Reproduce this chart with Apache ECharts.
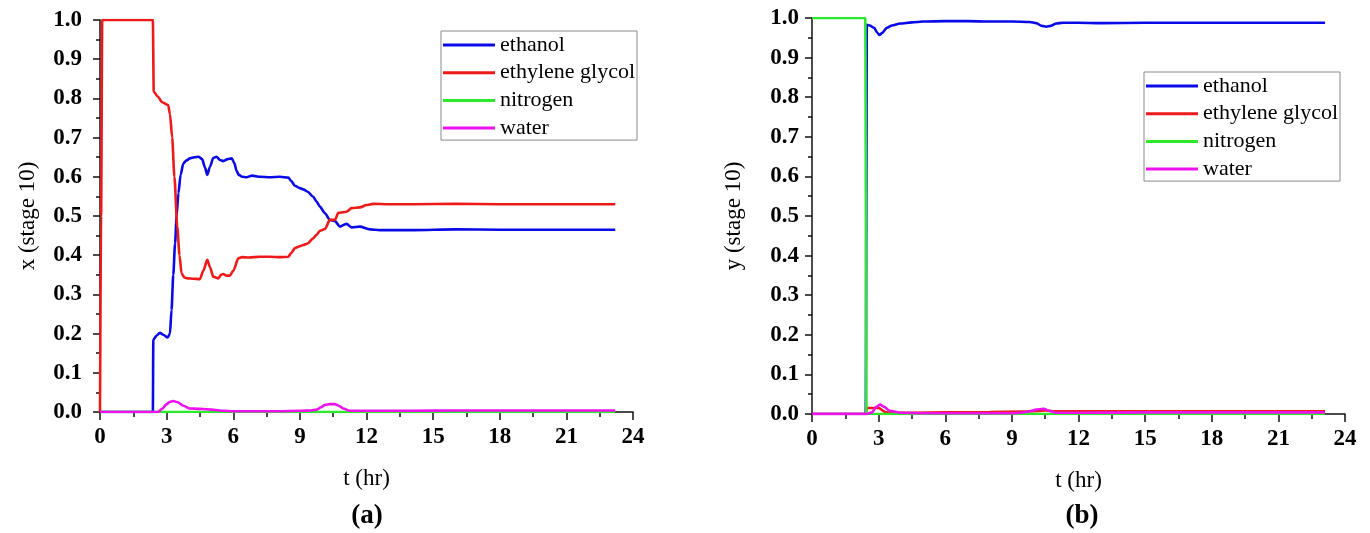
<!DOCTYPE html>
<html>
<head>
<meta charset="utf-8">
<script src="https://cdn.jsdelivr.net/npm/echarts@6/dist/echarts.min.js"></script>
<style>
  html, body { margin: 0; padding: 0; background: #fff; }
  #chart { width: 1370px; height: 533px; }
</style>
</head>
<body>
<div id="chart"></div>
<script>
// Component names (legend entries)
const components = ['ethanol', 'ethylene glycol', 'nitrogen', 'water'];
const lineColors = ['#0a0ae6', '#ee1a1a', '#2ee82e', '#ee11ee'];

// x-axis ticks (hours)
const hourTicks = [0, 3, 6, 9, 12, 15, 18, 21, 24];

// (a) liquid mole fraction on stage 10
const tLiqEthanol = [0, 2.38, 2.4, 2.55, 2.7, 2.85, 3.05, 3.15, 3.22, 3.3, 3.38, 3.45, 3.53, 3.63, 3.75, 3.9, 4.05, 4.25, 4.45, 4.6, 4.72, 4.83, 4.95, 5.1, 5.25, 5.4, 5.55, 5.75, 5.93, 6.05, 6.15, 6.25, 6.4, 6.6, 6.85, 7.2, 7.65, 8.1, 8.48, 8.6, 8.78, 9.0, 9.15, 9.35, 9.6, 9.75, 9.9, 10.13, 10.35, 10.58, 10.8, 11.1, 11.33, 11.7, 12.15, 12.6, 14.1, 16, 18, 20, 22, 23.2];
const liqEthanol  = [0, 0, 0.184, 0.195, 0.202, 0.197, 0.19, 0.2, 0.26, 0.35, 0.43, 0.5, 0.558, 0.605, 0.634, 0.642, 0.647, 0.65, 0.651, 0.645, 0.625, 0.605, 0.625, 0.648, 0.651, 0.643, 0.64, 0.645, 0.647, 0.635, 0.615, 0.605, 0.6, 0.599, 0.603, 0.6, 0.599, 0.6, 0.598, 0.59, 0.577, 0.571, 0.568, 0.562, 0.549, 0.537, 0.524, 0.507, 0.49, 0.487, 0.473, 0.48, 0.471, 0.473, 0.466, 0.464, 0.464, 0.466, 0.465, 0.465, 0.465, 0.465];

const tLiqGlycol = [0, 0.05, 0.1, 2.38, 2.42, 2.6, 2.8, 3.07, 3.15, 3.25, 3.35, 3.48, 3.58, 3.67, 3.8, 3.95, 4.2, 4.5, 4.65, 4.83, 4.95, 5.1, 5.33, 5.45, 5.55, 5.7, 5.85, 6.0, 6.23, 6.4, 6.7, 7.2, 7.65, 8.1, 8.48, 8.6, 8.78, 9.0, 9.15, 9.35, 9.6, 9.75, 9.9, 10.13, 10.35, 10.58, 10.73, 11.1, 11.33, 11.7, 12, 12.3, 13, 14.1, 16, 18, 20, 22, 23.2];
const liqGlycol  = [0, 0.5, 1.0, 1.0, 0.817, 0.805, 0.79, 0.783, 0.76, 0.7, 0.6, 0.473, 0.4, 0.354, 0.343, 0.341, 0.34, 0.339, 0.36, 0.388, 0.37, 0.345, 0.341, 0.35, 0.352, 0.348, 0.348, 0.36, 0.392, 0.395, 0.394, 0.396, 0.396, 0.395, 0.396, 0.405, 0.418, 0.423, 0.426, 0.43, 0.443, 0.452, 0.462, 0.467, 0.49, 0.49, 0.508, 0.511, 0.52, 0.522, 0.528, 0.531, 0.53, 0.53, 0.531, 0.53, 0.53, 0.53, 0.53];

const tLiqNitrogen = [0, 23.2];
const liqNitrogen  = [0, 0];

const tLiqWater = [0, 2.6, 2.8, 3.0, 3.15, 3.3, 3.5, 3.75, 4.05, 4.5, 4.8, 5.2, 5.55, 6, 7, 8, 9, 9.5, 9.76, 9.95, 10.13, 10.35, 10.58, 10.75, 10.95, 11.25, 12, 14, 16, 18, 20, 22, 23.2];
const liqWater  = [0, 0, 0.008, 0.02, 0.026, 0.028, 0.025, 0.016, 0.009, 0.008, 0.007, 0.005, 0.003, 0.002, 0.002, 0.002, 0.003, 0.004, 0.006, 0.012, 0.018, 0.02, 0.02, 0.016, 0.009, 0.003, 0.003, 0.003, 0.004, 0.004, 0.004, 0.004, 0.004];

// (b) vapour mole fraction on stage 10
const tVapEthanol = [0, 2.42, 2.47, 2.6, 2.8, 2.95, 3.04, 3.15, 3.37, 3.6, 3.97, 4.5, 5.0, 6, 7, 8, 9, 9.8, 10.1, 10.35, 10.55, 10.75, 11, 11.3, 12, 13, 15, 18, 21, 23.1];
const vapEthanol  = [0, 0, 0.983, 0.981, 0.975, 0.962, 0.957, 0.962, 0.975, 0.981, 0.986, 0.989, 0.991, 0.992, 0.992, 0.991, 0.991, 0.99, 0.987, 0.98, 0.978, 0.98, 0.986, 0.988, 0.988, 0.987, 0.988, 0.988, 0.988, 0.988];

const tVapGlycol = [0, 2.42, 2.47, 3.0, 3.3, 3.6, 4.5, 6, 8, 9.5, 10.2, 10.5, 10.8, 12, 15, 18, 21, 23.1];
const vapGlycol  = [0, 0, 0.015, 0.015, 0.005, 0.003, 0.003, 0.004, 0.005, 0.006, 0.008, 0.009, 0.007, 0.007, 0.007, 0.007, 0.007, 0.007];

const tVapNitrogen = [0, 2.4, 2.45, 23.1];
const vapNitrogen  = [1.0, 1.0, 0, 0];

const tVapWater = [0, 2.45, 2.7, 2.9, 3.07, 3.25, 3.5, 4.0, 5, 7, 9, 9.4, 9.8, 10.1, 10.43, 10.7, 11.0, 12, 15, 18, 21, 23.1];
const vapWater  = [0, 0, 0.004, 0.018, 0.024, 0.018, 0.008, 0.003, 0.002, 0.002, 0.002, 0.003, 0.007, 0.011, 0.013, 0.008, 0.003, 0.003, 0.004, 0.004, 0.004, 0.004];

const pair = (ts, vs) => ts.map((t, i) => [t, vs[i]]);

const liquid = [pair(tLiqEthanol, liqEthanol), pair(tLiqGlycol, liqGlycol), pair(tLiqNitrogen, liqNitrogen), pair(tLiqWater, liqWater)];
const vapour = [pair(tVapEthanol, vapEthanol), pair(tVapGlycol, vapGlycol), pair(tVapNitrogen, vapNitrogen), pair(tVapWater, vapWater)];

const SERIF = '"Liberation Serif", "Times New Roman", serif';

function xAxisFor(gridIndex) {
  return {
    type: 'value', gridIndex, min: hourTicks[0], max: hourTicks[hourTicks.length - 1], interval: 3,
    name: 't (hr)', nameLocation: 'middle', nameGap: 55,
    nameTextStyle: { fontFamily: SERIF, fontSize: 23, color: '#000' },
    axisLine: { show: true, onZero: false, lineStyle: { color: '#111', width: 1.5 } },
    axisTick: { show: true, inside: false, length: 8, lineStyle: { color: '#111', width: 1.5 } },
    minorTick: { show: true, splitNumber: 2, length: 5, lineStyle: { color: '#111', width: 1.5 } },
    axisLabel: { fontFamily: SERIF, fontSize: 23, fontWeight: 'bold', color: '#000', margin: 14 },
    splitLine: { show: false }
  };
}
function yAxisFor(gridIndex, name, gap, labelMargin) {
  return {
    type: 'value', gridIndex, min: 0, max: 1, interval: 0.1,
    name, nameLocation: 'middle', nameGap: gap,
    nameTextStyle: { fontFamily: SERIF, fontSize: 23, color: '#000' },
    axisLine: { show: true, onZero: false, lineStyle: { color: '#111', width: 1.5 } },
    axisTick: { show: true, inside: false, length: 7, lineStyle: { color: '#111', width: 1.5 } },
    minorTick: { show: true, splitNumber: 2, length: 4, lineStyle: { color: '#111', width: 1.5 } },
    axisLabel: { fontFamily: SERIF, fontSize: 23, fontWeight: 'bold', color: '#000', margin: labelMargin,
                 formatter: v => v.toFixed(1) },
    splitLine: { show: false }
  };
}
function legendAt(left, top) {
  return {
    data: components, orient: 'vertical', left, top,
    icon: 'rect', itemWidth: 52, itemHeight: 3, itemGap: 5.7, itemTextGap: 5,
    padding: [3, 2, 1, 2], borderColor: '#8a8a8a', borderWidth: 1,
    textStyle: { fontFamily: SERIF, fontSize: 22, lineHeight: 22, color: '#000' }
  };
}

const series = [];
[liquid, vapour].forEach((set, g) => {
  set.forEach((data, i) => {
    series.push({
      type: 'line', name: components[i], xAxisIndex: g, yAxisIndex: g,
      data, symbol: 'none', smooth: 0.25, smoothMonotone: 'x', silent: true,
      lineStyle: { color: lineColors[i], width: 2.6 },
      itemStyle: { color: lineColors[i] }
    });
  });
});

const chart = echarts.init(document.getElementById('chart'), null, { renderer: 'canvas' });
chart.setOption({
  animation: false,
  backgroundColor: '#fff',
  grid: [
    { left: 100, top: 20, width: 533, height: 392 },
    { left: 812, top: 18, width: 533, height: 396 }
  ],
  xAxis: [xAxisFor(0), xAxisFor(1)],
  yAxis: [yAxisFor(0, 'x (stage 10)', 61, 18), yAxisFor(1, 'y (stage 10)', 67, 13)],
  legend: [legendAt(441, 31), legendAt(1144, 72)],
  title: [
    { text: '(a)', left: 367, top: 503, textAlign: 'center',
      textStyle: { fontFamily: SERIF, fontSize: 27, fontWeight: 'bold', color: '#000' }, padding: 0 },
    { text: '(b)', left: 1082, top: 503, textAlign: 'center',
      textStyle: { fontFamily: SERIF, fontSize: 27, fontWeight: 'bold', color: '#000' }, padding: 0 }
  ],
  series
});
</script>
</body>
</html>
